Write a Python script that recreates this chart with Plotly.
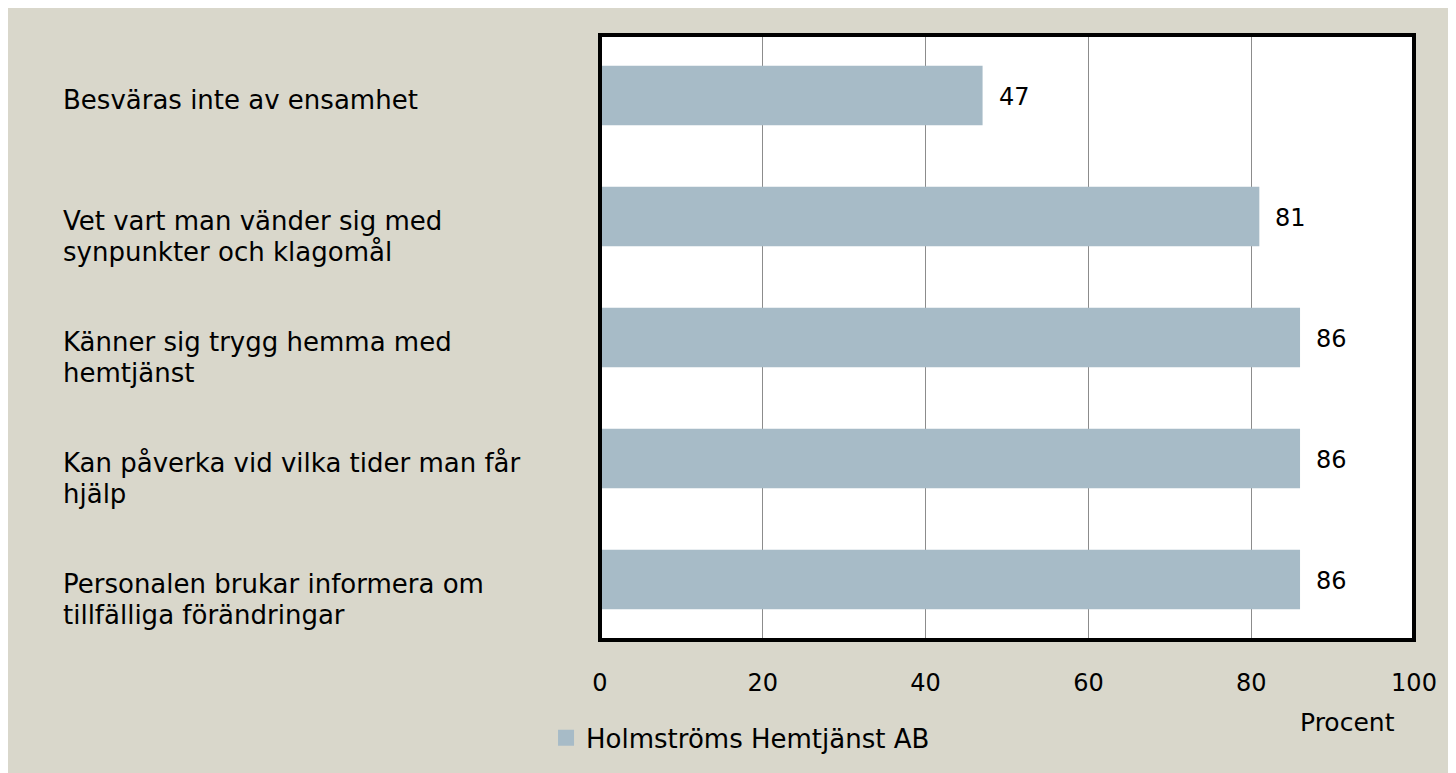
import plotly.graph_objects as go

# data
categories = [
    "Besväras inte av ensamhet",
    "Vet vart man vänder sig med<br>synpunkter och klagomål",
    "Känner sig trygg hemma med<br>hemtjänst",
    "Kan påverka vid vilka tider man får<br>hjälp",
    "Personalen brukar informera om<br>tillfälliga förändringar",
]
values = [47, 81, 86, 86, 86]
series_name = "Holmströms Hemtjänst AB"
tick_vals = [0, 20, 40, 60, 80, 100]

BG = "#d9d7cb"
BAR = "#a7bbc7"
FONT = "DejaVu Sans"

fig = go.Figure()
fig.add_trace(go.Bar(
    x=values, y=categories, orientation="h",
    name=series_name, marker=dict(color=BAR, line=dict(width=0)),
    width=0.49, showlegend=False,
))
# legend entry with a larger square swatch
fig.add_trace(go.Scatter(
    x=[None], y=[None], mode="markers", name=series_name,
    marker=dict(symbol="square", size=16, color=BAR),
))

# value labels
for c, v in zip(categories, values):
    fig.add_annotation(x=v, y=c, text=str(v), showarrow=False,
                       xanchor="left", xshift=14, yshift=-1,
                       font=dict(family=FONT, size=24, color="#000"))

# category labels, left aligned, one annotation per line
for c in categories:
    for i, line in enumerate(c.split("<br>")):
        fig.add_annotation(x=-0.662, xref="paper", y=c, yref="y", text=line,
                           showarrow=False, xanchor="left", yshift=-4 - 31 * i,
                           font=dict(family=FONT, size=26, color="#000"))

fig.add_annotation(x=0.918, y=-0.136, xref="paper", yref="paper", text="Procent",
                   xanchor="center", yanchor="middle",
                   showarrow=False, font=dict(family=FONT, size=25, color="#000"))

# plot frame
fig.add_shape(type="rect", xref="paper", yref="paper", x0=0, x1=1, y0=0, y1=1,
              line=dict(color="#000", width=4))

fig.update_layout(
    width=1448, height=765,
    margin=dict(l=592, r=42, t=27, b=128),
    paper_bgcolor=BG, plot_bgcolor="white",
    font=dict(family=FONT, size=24, color="#000"),
    bargap=0.51,
    showlegend=True,
    legend=dict(orientation="h", x=-0.0663, y=-0.123, xanchor="left", yanchor="top",
                bgcolor="rgba(0,0,0,0)", font=dict(family=FONT, size=26),
                itemwidth=30),
    xaxis=dict(range=[0, 100], tickvals=tick_vals, showgrid=True,
               gridcolor="#8c8c8c", gridwidth=1, zeroline=False,
               tickfont=dict(size=24),
               ticks="", ticklabelstandoff=26, showline=False, fixedrange=True),
    yaxis=dict(autorange="reversed", showticklabels=False, showgrid=False,
               zeroline=False, ticks="", fixedrange=True),
)

fig.write_html("out.html")
